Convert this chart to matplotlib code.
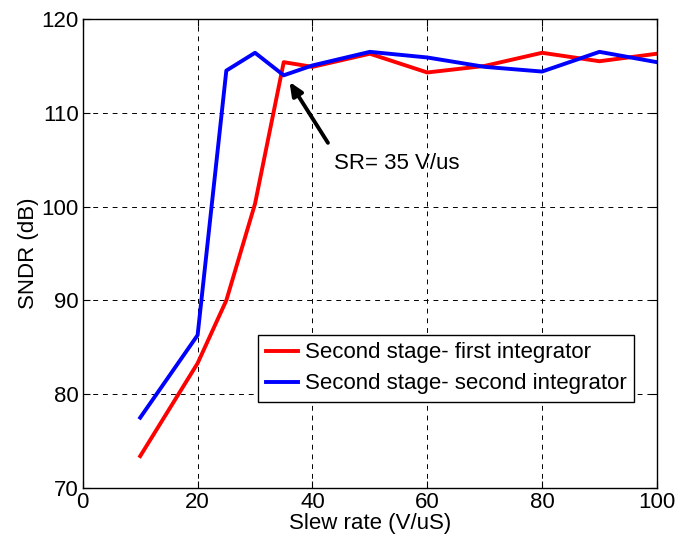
import matplotlib
matplotlib.use('Agg')
import matplotlib.pyplot as plt

plt.rcParams['font.family'] = ['Liberation Sans', 'DejaVu Sans']

slew_rate = [10, 20, 25, 30, 35, 40, 50, 60, 70, 80, 90, 100]
sndr_first = [73.4, 83.3, 90.0, 100.3, 115.4, 114.9, 116.3, 114.3, 115.0, 116.4, 115.5, 116.3]
sndr_second = [77.5, 86.3, 114.5, 116.4, 114.0, 115.05, 116.5, 115.9, 114.9, 114.4, 116.5, 115.4]

fs = 16

fig = plt.figure(figsize=(6.9, 5.45), dpi=100)
ax = fig.add_axes([0.120, 0.1046, 0.832, 0.8605])

ax.plot(slew_rate, sndr_first, color='red', lw=2.8, label='Second stage- first integrator')
ax.plot(slew_rate, sndr_second, color='blue', lw=2.8, label='Second stage- second integrator')

ax.set_xlim(0, 100)
ax.set_ylim(70, 120)
ax.set_xticks(range(0, 101, 20))
ax.set_yticks(range(70, 121, 10))
ax.tick_params(direction='in', labelsize=fs, length=5, top=True, right=True, pad=3)
ax.grid(True, color='black', linestyle=(0, (5, 5)), lw=0.7)
for s in ax.spines.values():
    s.set_linewidth(1.0)

ax.set_xlabel('Slew rate (V/uS)', fontsize=fs, labelpad=0)
ax.set_ylabel('SNDR (dB)', fontsize=fs, labelpad=2)

# arrow pointing at the 35 V/us point
ax.annotate('', xy=(36.0, 113.3), xytext=(42.7, 106.8),
            arrowprops=dict(arrowstyle='-|>,head_length=0.8,head_width=0.35',
                            color='black', lw=2.8, shrinkA=0, shrinkB=0))
ax.text(43.8, 104.6, 'SR= 35 V/us', fontsize=fs, va='center', ha='left')

leg = ax.legend(loc='lower left', bbox_to_anchor=(0.305, 0.183), fontsize=fs,
                fancybox=False, edgecolor='black', framealpha=1,
                handlelength=1.45, borderpad=0.35, labelspacing=0.45,
                handletextpad=0.3, borderaxespad=0)
leg.get_frame().set_linewidth(1.0)

fig.savefig('out.png', dpi=100)
